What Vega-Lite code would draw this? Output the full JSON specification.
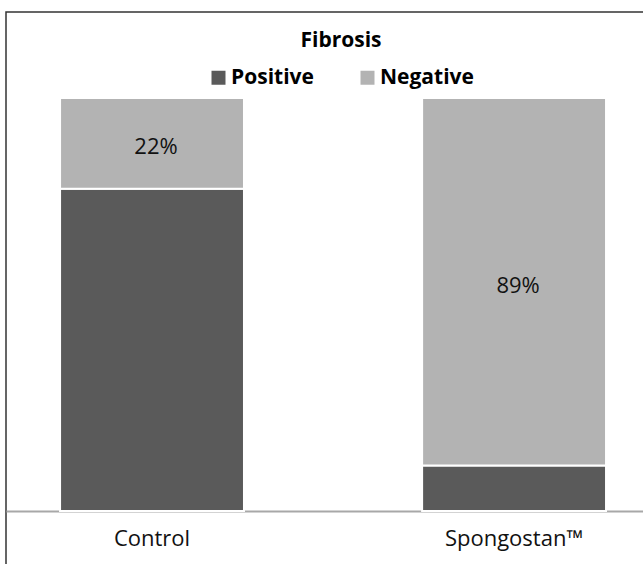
{
  "$schema": "https://vega.github.io/schema/vega-lite/v6.json",
  "autosize": "none",
  "padding": {"left": 6, "top": 12, "right": 0, "bottom": 0},
  "width": 664,
  "height": 562,
  "background": "white",
  "config": {
    "view": {"stroke": "#333333", "strokeWidth": 1.5},
    "font": "Open Sans"
  },
  "data": {
    "values": [
      {"group": "Control", "status": "Positive", "pct": 0.78},
      {"group": "Control", "status": "Negative", "pct": 0.22},
      {"group": "Spongostan™", "status": "Positive", "pct": 0.11},
      {"group": "Spongostan™", "status": "Negative", "pct": 0.89}
    ]
  },
  "encoding": {
    "x": {
      "field": "group",
      "type": "nominal",
      "sort": ["Control", "Spongostan™"],
      "scale": {"paddingInner": 0.492, "paddingOuter": 0.163, "align": 0.458},
      "axis": {
        "title": null,
        "orient": "bottom",
        "offset": -63,
        "ticks": false,
        "tickSize": 0,
        "labelAngle": 0,
        "labelFont": "Open Sans",
        "labelFontSize": 22,
        "labelColor": "#111111",
        "labelBaseline": "alphabetic",
        "labelPadding": 34,
        "domainColor": "#a8a8a8",
        "domainWidth": 2,
        "grid": false
      }
    }
  },
  "layer": [
    {
      "mark": {"type": "bar", "stroke": "white", "strokeWidth": 2},
      "encoding": {
        "y": {
          "field": "pct",
          "type": "quantitative",
          "stack": "zero",
          "scale": {"domain": [-0.1525, 1.208], "nice": false, "zero": false},
          "axis": null
        },
        "color": {
          "field": "status",
          "type": "nominal",
          "sort": ["Positive", "Negative"],
          "scale": {"domain": ["Positive", "Negative"], "range": ["#5a5a5a", "#b3b3b3"]},
          "legend": {
            "title": "Fibrosis",
            "titleFont": "Open Sans",
            "titleFontSize": 21,
            "titleFontWeight": "bold",
            "titleColor": "#000000",
            "titleAnchor": "middle",
            "titleOrient": "top",
            "titlePadding": 16,
            "orient": "none",
            "direction": "horizontal",
            "legendX": 202,
            "legendY": 18,
            "symbolType": "square",
            "symbolSize": 196,
            "symbolStrokeWidth": 0,
            "labelFont": "Open Sans",
            "labelFontSize": 21,
            "labelFontWeight": "bold",
            "labelColor": "#000000",
            "labelOffset": 2,
            "columnPadding": 43,
            "padding": 0
          }
        },
        "order": {"field": "status", "sort": "descending"}
      }
    },
    {
      "transform": [
        {"stack": "pct", "groupby": ["group"], "sort": [{"field": "status", "order": "descending"}], "as": ["y0", "y1"]},
        {"filter": "datum.status === 'Negative'"},
        {"calculate": "(datum.y0 + datum.y1) / 2", "as": "mid"}
      ],
      "mark": {"type": "text", "font": "Open Sans", "fontSize": 22, "color": "#111111", "baseline": "middle", "dy": 4, "dx": 4},
      "encoding": {
        "y": {"field": "mid", "type": "quantitative"},
        "text": {"field": "pct", "type": "quantitative", "format": ".0%"}
      }
    }
  ]
}
